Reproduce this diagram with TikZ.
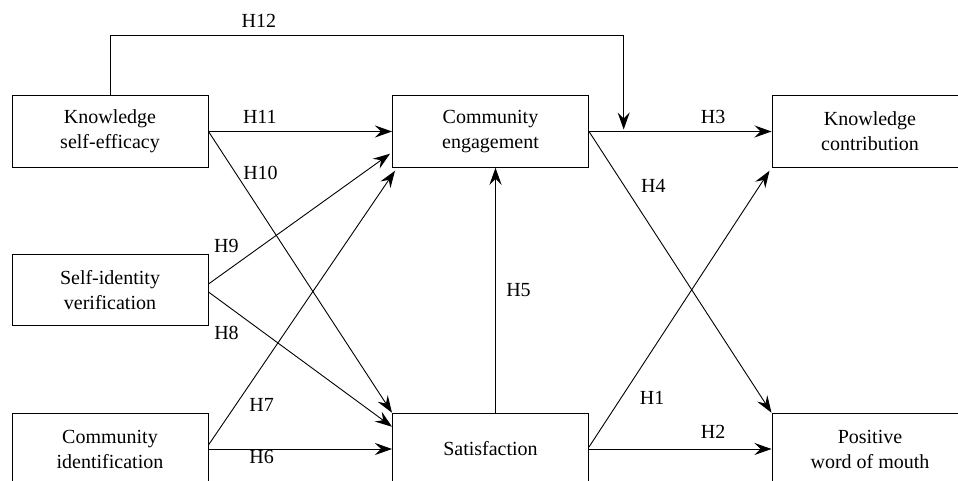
\documentclass[tikz,border=0pt]{standalone}
\usepackage{fontspec}
\setmainfont{Liberation Serif}
\usetikzlibrary{arrows.meta,calc}
\tikzset{
	box/.style={draw, line width=1pt, minimum width=196pt, minimum height=71.5pt, inner sep=0pt, align=center, font=\fontsize{20}{25}\selectfont},
	link/.style={line width=0.9pt, -{Stealth[length=17pt,width=12pt,inset=6pt]}},
	hyp/.style={inner sep=0pt, font=\fontsize{20}{24}\selectfont}
}

\begin{document}
\begin{tikzpicture}[x=1pt,y=1pt]
	\clip (0,0) rectangle (958,481);

	\node[box] (kse) at (110,349.5) {Knowledge\\self-efficacy};
	\node[box] (siv) at (110,191) {Self-identity\\verification};
	\node[box] (ci) at (110,32) {Community\\identification};
	\node[box] (ce) at (490.5,349.5) {Community\\engagement};
	\node[box] (sat) at (490.5,32) {Satisfaction};
	\node[box] (kc) at (870,349.5) {Knowledge\\contribution};
	\node[box] (pwom) at (870,32) {Positive\\word of mouth};

	\coordinate (h12in) at ($(ce.east)!0.19!(kc.west)+(0,2)$);
	\draw[link] (kse.north) -- ++(0,60) coordinate (h12up)
		-- node[hyp, pos=0.29, yshift=14.5pt] (h12) {H12} (h12up -| h12in) -- (h12in);

	\draw[link] (kse.east) -- node[hyp, pos=0.28, yshift=15pt] (h11) {H11} (ce.west);
	\draw[link] (kse.east) -- node[hyp, pos=0.147, xshift=25pt] (h10) {H10} (sat.north west);
	\draw[link] ($(siv.east)+(0,6)$) -- node[hyp, pos=0.099, yshift=25pt] (h9) {H9} ($(ce.south west)+(-2,14)$);
	\draw[link] ($(siv.east)+(0,-2)$) -- node[hyp, pos=0.098, yshift=-28pt] (h8) {H8} ($(sat.north west)+(0,-14)$);
	\draw[link] ($(ci.east)+(0,4)$) -- node[hyp, pos=0.145, xshift=26pt] (h7) {H7} ($(ce.south west)+(3,-3)$);
	\draw[link] (ci.east) -- node[hyp, pos=0.29, yshift=-7.5pt] (h6) {H6} (sat.west);
	\draw[link] ($(sat.north)+(5,0)$) -- node[hyp, pos=0.5, xshift=23pt] (h5) {H5} ($(ce.south)+(5,0)$);
	\draw[link] (ce.east) -- node[hyp, pos=0.68, yshift=14.5pt] (h3) {H3} (kc.west);
	\draw[link] (ce.east) -- node[hyp, pos=0.194, xshift=29pt] (h4) {H4} (pwom.north west);
	\draw[link] ($(sat.east)+(0,2)$) -- node[hyp, pos=0.178, xshift=31pt] (h1) {H1} ($(kc.south west)+(-2,-3)$);
	\draw[link] (sat.east) -- node[hyp, pos=0.68, yshift=17pt] (h2) {H2} (pwom.west);
\end{tikzpicture}
\end{document}
